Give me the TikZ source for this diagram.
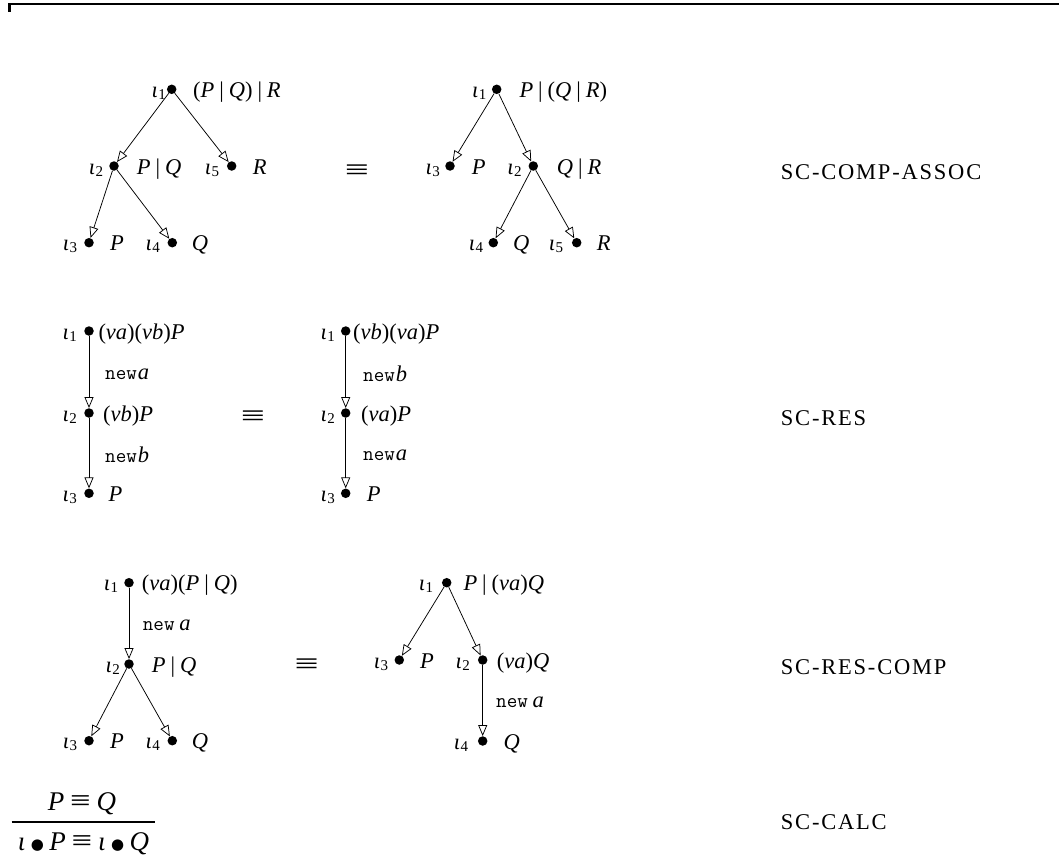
\documentclass[tikz,border=0pt]{standalone}
\usepackage{fontspec}
\setmainfont{Liberation Serif}
\newfontfamily\rulefont[LetterSpace=8]{Liberation Serif}
\newfontfamily\symfont{DejaVu Sans}
\usetikzlibrary{arrows.meta}
\newcommand\fs{\fontsize{22.5}{27}\selectfont}
\newcommand\io[1]{\textit{ι}\kern0.5pt\raisebox{-0.1em}{\fontsize{15}{16}\selectfont #1}}
\newcommand\mi[1]{\textit{#1}}
\newcommand\pr{\hspace{0.22em}|\hspace{0.22em}}
\newcommand\nuu{\textit{ν}}
\newcommand\nw[1]{{\fontsize{20.5}{24}\selectfont\ttfamily new}\kern1pt\textit{#1}}
\newcommand\eqv{\scalebox{1.9}[1.3]{≡}}
\newcommand\feqv{\scalebox{1.35}[1.1]{≡}}
\newcommand\fbul{\raisebox{0.05em}{\symfont\fontsize{15}{20}\selectfont ●}}
\tikzset{
  dot/.style={circle,fill=black,inner sep=0pt,minimum size=9.5pt},
  iol/.style={anchor=base east,inner sep=0pt,font=\fs},
  exl/.style={anchor=base west,inner sep=0pt,font=\fs},
  arr/.style={-{Triangle[open,length=11pt,width=9pt]},line width=0.75pt},
  eqsym/.style={inner sep=0pt,font=\fs},
  rulename/.style={anchor=base west,inner sep=0pt,font=\fs\rulefont},
  fracpart/.style={anchor=base,inner sep=0pt,font=\fontsize{27}{32}\selectfont},
}
\begin{document}
\begin{tikzpicture}[x=1pt,y=-1pt]
\useasboundingbox (0,0) rectangle (1059,856);
% frame
\draw[line width=2.5pt] (9.7,12) -- (9.7,4) -- (1060,4);

% ---------- SC-COMP-ASSOC left
\node[dot] (a1) at (171.7,89.3) {};
\node[dot] (a2) at (114,166) {};
\node[dot] (a5) at (231.7,166) {};
\node[dot] (a3) at (89,242.7) {};
\node[dot] (a4) at (172.3,242.7) {};
\node[iol] (a1i) at (166,97.3) {\io{1}};
\node[exl] (a1e) at (193,97.3) {(\mi{P}\pr\mi{Q})\pr\mi{R}};
\node[iol] (a2i) at (103.3,174) {\io{2}};
\node[exl] (a2e) at (136.7,174) {\mi{P}\pr\mi{Q}};
\node[iol] (a5i) at (219.3,174) {\io{5}};
\node[exl] (a5e) at (252.7,174) {\mi{R}};
\node[iol] (a3i) at (77.3,250.7) {\io{3}};
\node[exl] (a3e) at (110,250.7) {\mi{P}};
\node[iol] (a4i) at (160,250.7) {\io{4}};
\node[exl] (a4e) at (191.7,250.7) {\mi{Q}};
\draw[arr] (a1) -- (a2);
\draw[arr] (a1) -- (a5);
\draw[arr] (a2) -- (a3);
\draw[arr] (a2) -- (a4);
\node[eqsym] (eq1) at (357,172) {\eqv};

% ---------- SC-COMP-ASSOC right
\node[dot] (b1) at (496.7,89.3) {};
\node[dot] (b3) at (450,166) {};
\node[dot] (b2) at (533.3,166) {};
\node[dot] (b4) at (493.3,242.7) {};
\node[dot] (b5) at (576.7,242.7) {};
\node[iol] (b1i) at (486.5,97.3) {\io{1}};
\node[exl] (b1e) at (519.3,97.3) {\mi{P}\pr(\mi{Q}\pr\mi{R})};
\node[iol] (b3i) at (440,174) {\io{3}};
\node[exl] (b3e) at (471.7,174) {\mi{P}};
\node[iol] (b2i) at (521.7,174) {\io{2}};
\node[exl] (b2e) at (556.7,174) {\mi{Q}\pr\mi{R}};
\node[iol] (b4i) at (483.3,250.7) {\io{4}};
\node[exl] (b4e) at (513,250.7) {\mi{Q}};
\node[iol] (b5i) at (563.3,250.7) {\io{5}};
\node[exl] (b5e) at (596.7,250.7) {\mi{R}};
\draw[arr] (b1) -- (b3);
\draw[arr] (b1) -- (b2);
\draw[arr] (b2) -- (b4);
\draw[arr] (b2) -- (b5);
\node[rulename] (r1) at (780.7,179.3) {SC-COMP-ASSOC};

% ---------- SC-RES left
\node[dot] (c1) at (89,331) {};
\node[dot] (c2) at (89,413) {};
\node[dot] (c3) at (89,493.3) {};
\node[iol] (c1i) at (77,339) {\io{1}};
\node[exl] (c1e) at (98.3,339) {(\nuu\mi{a})(\nuu\mi{b})\mi{P}};
\node[iol] (c2i) at (77,421) {\io{2}};
\node[exl] (c2e) at (103,421) {(\nuu\mi{b})\mi{P}};
\node[iol] (c3i) at (77,501.3) {\io{3}};
\node[exl] (c3e) at (108.3,501.3) {\mi{P}};
\node[exl] (c12) at (105,379) {\nw{a}};
\node[exl] (c23) at (105,462.3) {\nw{b}};
\draw[arr] (c1) -- (c2);
\draw[arr] (c2) -- (c3);
\node[eqsym] (eq2) at (253,418) {\eqv};

% ---------- SC-RES right
\node[dot] (d1) at (345.7,331) {};
\node[dot] (d2) at (345.7,413) {};
\node[dot] (d3) at (345.7,493.3) {};
\node[iol] (d1i) at (335,339) {\io{1}};
\node[exl] (d1e) at (353,339) {(\nuu\mi{b})(\nuu\mi{a})\mi{P}};
\node[iol] (d2i) at (335,421) {\io{2}};
\node[exl] (d2e) at (361,421) {(\nuu\mi{a})\mi{P}};
\node[iol] (d3i) at (335,501.3) {\io{3}};
\node[exl] (d3e) at (366.7,501.3) {\mi{P}};
\node[exl] (d12) at (363,381) {\nw{b}};
\node[exl] (d23) at (363,460) {\nw{a}};
\draw[arr] (d1) -- (d2);
\draw[arr] (d2) -- (d3);
\node[rulename] (r2) at (780.7,425.5) {SC-RES};

% ---------- SC-RES-COMP left
\node[dot] (e1) at (129,582.7) {};
\node[dot] (e2) at (129,664) {};
\node[dot] (e3) at (89,740.7) {};
\node[dot] (e4) at (172.3,740.7) {};
\node[iol] (e1i) at (118.3,590.7) {\io{1}};
\node[exl] (e1e) at (141.7,590.7) {(\nuu\mi{a})(\mi{P}\pr\mi{Q})};
\node[iol] (e2i) at (120,672) {\io{2}};
\node[exl] (e2e) at (151.7,672) {\mi{P}\pr\mi{Q}};
\node[iol] (e3i) at (77.3,748.7) {\io{3}};
\node[exl] (e3e) at (110,748.7) {\mi{P}};
\node[iol] (e4i) at (160,748.7) {\io{4}};
\node[exl] (e4e) at (191.7,748.7) {\mi{Q}};
\node[exl] (e12) at (142.7,630.7) {\nw{\,a}};
\draw[arr] (e1) -- (e2);
\draw[arr] (e2) -- (e3);
\draw[arr] (e2) -- (e4);
\node[eqsym] (eq3) at (306.7,666) {\eqv};

% ---------- SC-RES-COMP right
\node[dot] (f1) at (446.7,582.7) {};
\node[dot] (f3) at (399.3,660) {};
\node[dot] (f2) at (482.7,660) {};
\node[dot] (f4) at (482.7,741) {};
\node[iol] (f1i) at (433.3,590.7) {\io{1}};
\node[exl] (f1e) at (463.3,590.7) {\mi{P}\pr(\nuu\mi{a})\mi{Q}};
\node[iol] (f3i) at (388.3,668) {\io{3}};
\node[exl] (f3e) at (420,668) {\mi{P}};
\node[iol] (f2i) at (470,668) {\io{2}};
\node[exl] (f2e) at (496.7,668) {(\nuu\mi{a})\mi{Q}};
\node[iol] (f4i) at (468.3,749) {\io{4}};
\node[exl] (f4e) at (503.3,749) {\mi{Q}};
\node[exl] (f24) at (496,707.3) {\nw{\,a}};
\draw[arr] (f1) -- (f3);
\draw[arr] (f1) -- (f2);
\draw[arr] (f2) -- (f4);
\node[rulename] (r3) at (780.7,674.3) {SC-RES-COMP};

% ---------- SC-CALC
\node[fracpart] (num) at (82,810) {\mi{P}\hspace{0.22em}\feqv\hspace{0.22em}\mi{Q}};
\coordinate (fl) at (11.7,821.7);
\coordinate (fr) at (155,821.7);
\draw[line width=1.8pt] (fl) -- (fr);
\node[fracpart] (den) at (83.5,850.7) {\mi{ι}\hspace{0.2em}\fbul\hspace{0.2em}\mi{P}\hspace{0.22em}\feqv\hspace{0.22em}\mi{ι}\hspace{0.2em}\fbul\hspace{0.2em}\mi{Q}};
\node[rulename] (r4) at (780.7,829.3) {SC-CALC};
\end{tikzpicture}
\end{document}
